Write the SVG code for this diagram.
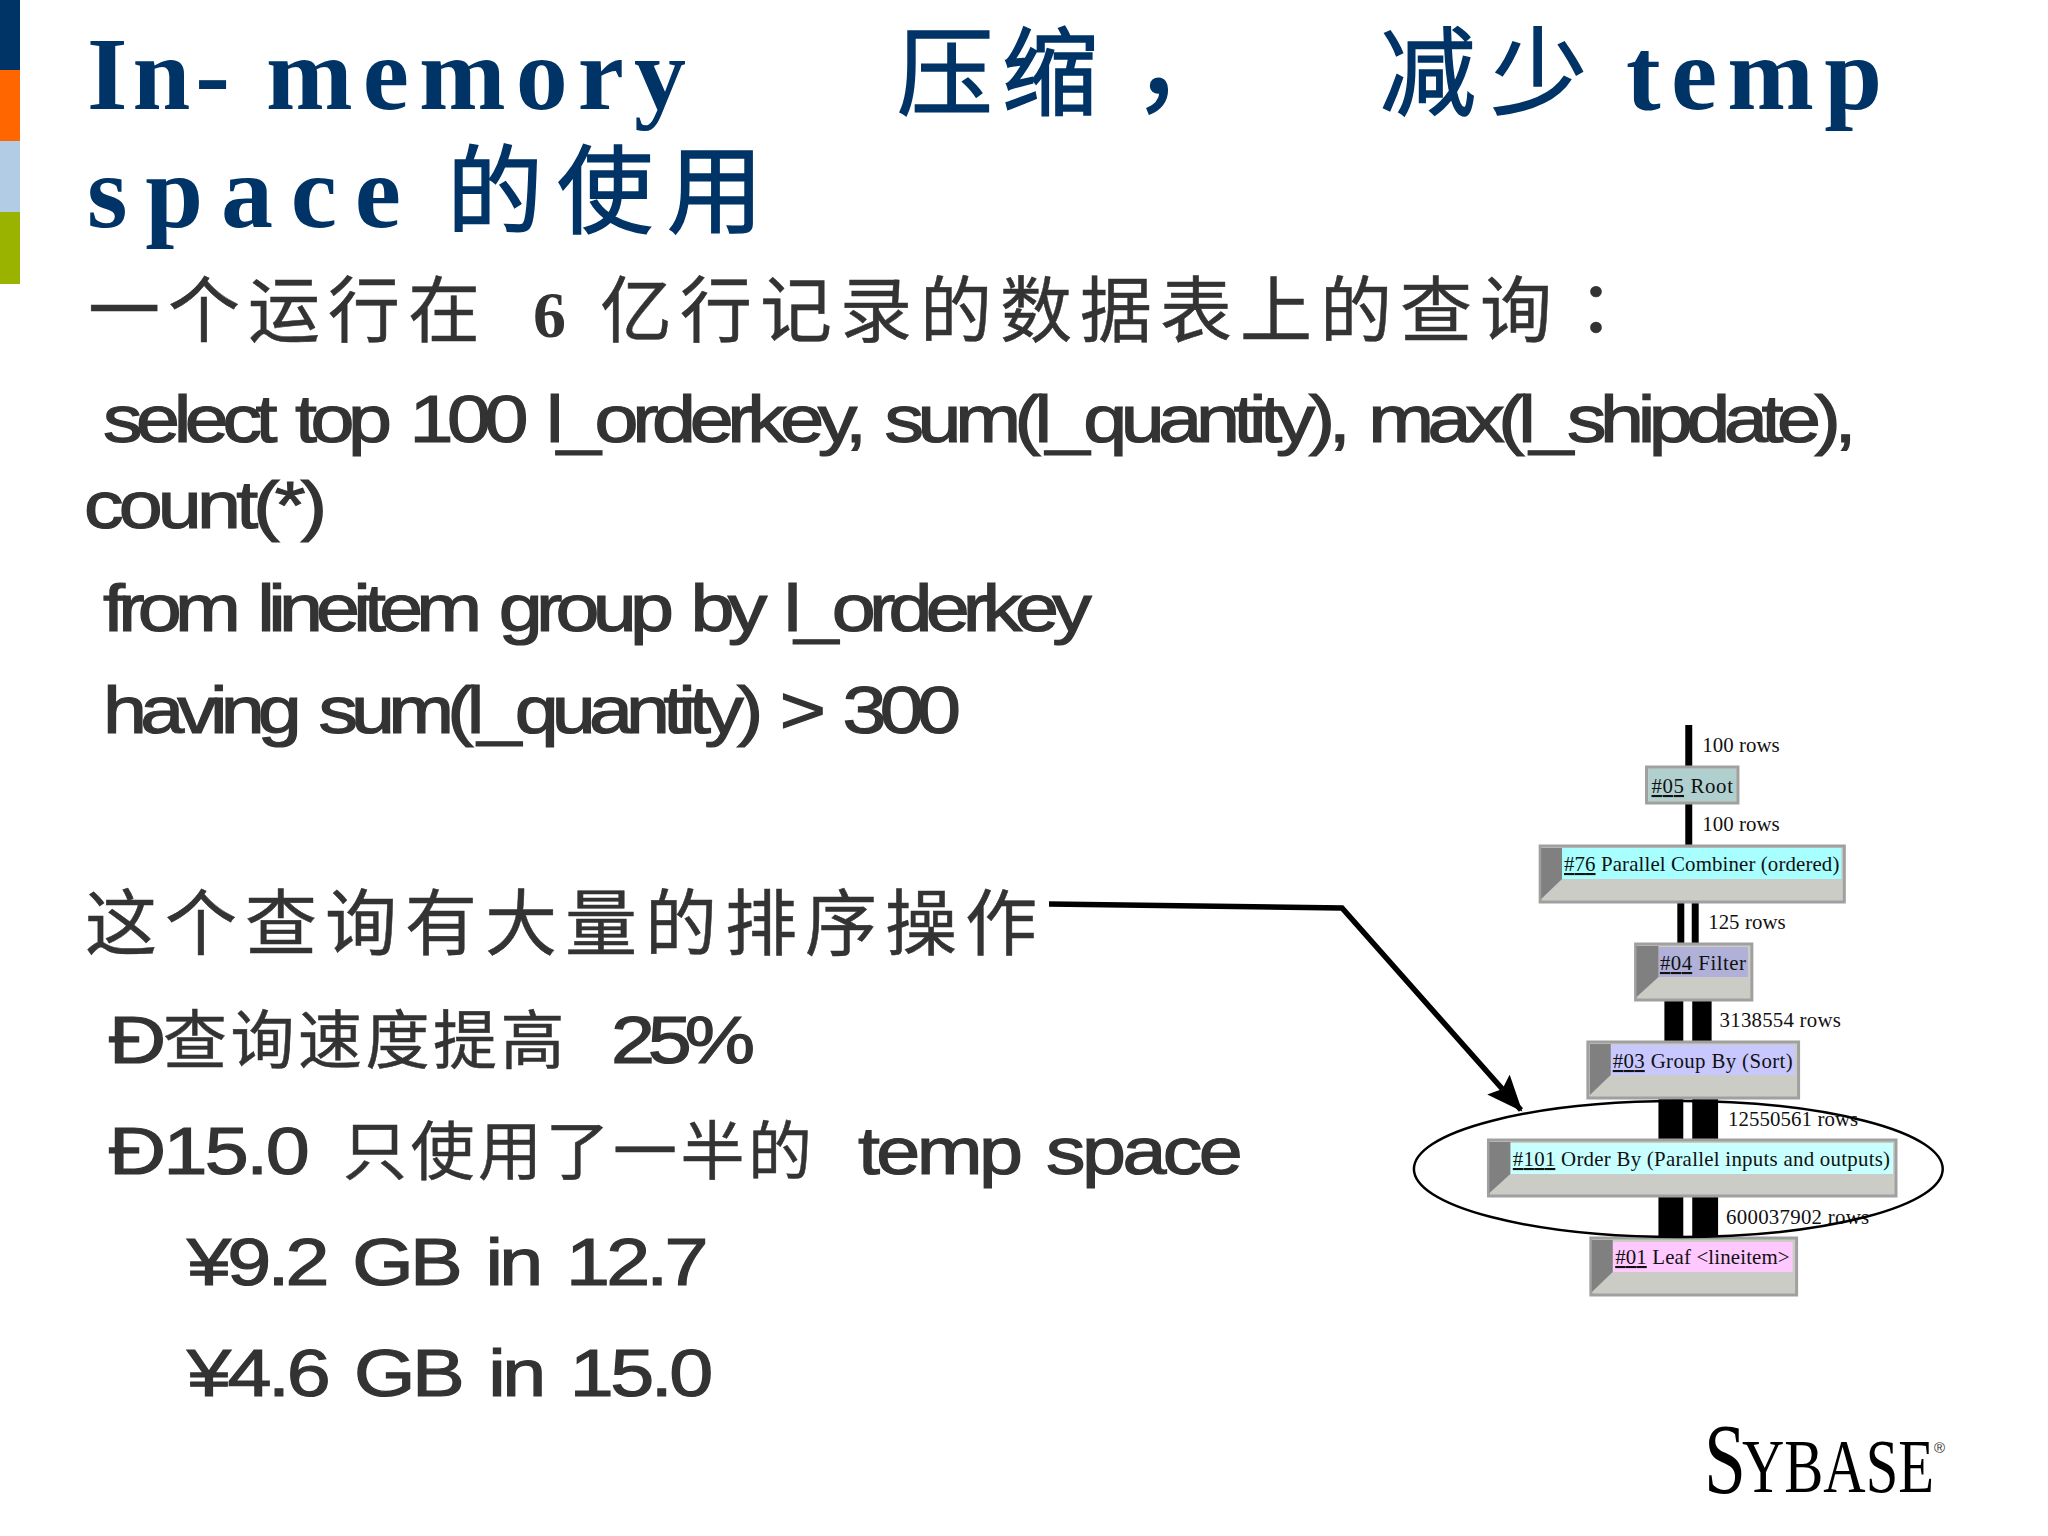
<svg xmlns="http://www.w3.org/2000/svg" width="2048" height="1536" viewBox="0 0 2048 1536">
<style>
.tl{font-family:"Liberation Serif","Noto Sans CJK SC",serif;font-weight:700;font-size:104px;fill:#003366}
.tc{font-family:"Noto Sans CJK SC",sans-serif;font-size:96px;fill:#003366;stroke:#003366;stroke-width:1.5px}
.cj{font-family:"Noto Sans CJK SC",sans-serif;font-size:72px;fill:#333;letter-spacing:8px;stroke:#333;stroke-width:.5px}
.cs{font-family:"Noto Sans CJK SC",sans-serif;font-size:64px;fill:#333;letter-spacing:3.5px;stroke:#333;stroke-width:.5px}
.la{font-family:"Liberation Sans",Arial,sans-serif;font-size:67px;fill:#333;stroke:#333;stroke-width:1.2px;word-spacing:7px}
.n{font-family:"Liberation Serif",serif;font-size:21px;fill:#111}
.box{fill:#ccccc6;stroke:#a0a0a0;stroke-width:3px}
.bev{fill:#808080}
.lk{text-decoration:underline}
.wire{fill:#000}
</style>
<defs>
<marker id="ah" markerUnits="userSpaceOnUse" markerWidth="40" markerHeight="40" refX="34" refY="15" orient="auto"><path d="M0 0L36 15L0 30L6 15Z" fill="#000"/></marker>
</defs>
<rect width="2048" height="1536" fill="#fff"/>
<g id="sidebar">
<rect x="0" y="0" width="20" height="70" fill="#003366"/>
<rect x="0" y="70" width="20" height="71" fill="#ff6600"/>
<rect x="0" y="141" width="20" height="71" fill="#b2cce6"/>
<rect x="0" y="212" width="20" height="72" fill="#99b300"/>
</g>
<g id="title">
<text class="tl" x="87" y="109" textLength="143" lengthAdjust="spacing">In-</text>
<text class="tl" x="266" y="109" textLength="420" lengthAdjust="spacing">memory</text>
<text class="tc" x="897" y="107" letter-spacing="9">压缩</text>
<text class="tc" x="1133" y="103" style="font-size:104px">，</text>
<text class="tc" x="1380" y="107" letter-spacing="15">减少</text>
<text class="tl" x="1626" y="109" textLength="256" lengthAdjust="spacing">temp</text>
<text class="tl" x="87" y="227" textLength="314" lengthAdjust="spacing">space</text>
<text class="tc" x="447" y="225" letter-spacing="14">的使用</text>
</g>
<g id="body">
<text class="cj" x="88" y="336">一个运行在</text>
<text class="la" x="533" y="337" font-weight="700" style="font-family:'Liberation Serif',serif;font-size:66px;stroke:none">6</text>
<text class="cj" x="600" y="336">亿行记录的数据表上的查询<tspan style="font-family:'Noto Sans CJK TC',sans-serif">：</tspan></text>
<text class="la" transform="translate(103 442) scale(1.18 1)" textLength="1486" lengthAdjust="spacing">select top 100 l_orderkey, sum(l_quantity), max(l_shipdate),</text>
<text class="la" transform="translate(84 528) scale(1.18 1)" textLength="206" lengthAdjust="spacing">count(*)</text>
<text class="la" transform="translate(103 631) scale(1.18 1)" textLength="838" lengthAdjust="spacing">from lineitem group by l_orderkey</text>
<text class="la" transform="translate(103 733) scale(1.18 1)" textLength="727" lengthAdjust="spacing">having sum(l_quantity) &gt; 300</text>
<text class="cj" x="85" y="949">这个查询有大量的排序操作</text>
<text class="la" transform="translate(109 1063) scale(1.18 1)">Ð</text>
<text class="cs" x="163" y="1063">查询速度提高</text>
<text class="la" transform="translate(611 1063) scale(1.18 1)" textLength="122" lengthAdjust="spacing">25%</text>
<text class="la" transform="translate(109 1174) scale(1.18 1)" textLength="170" lengthAdjust="spacing">Ð15.0</text>
<text class="cs" x="343" y="1174">只使用了一半的</text>
<text class="la" transform="translate(858 1174) scale(1.18 1)" textLength="326" lengthAdjust="spacing">temp space</text>
<text class="la" transform="translate(187 1285) scale(1.18 1)" textLength="442" lengthAdjust="spacing">¥9.2 GB in 12.7</text>
<text class="la" transform="translate(187 1396) scale(1.18 1)" textLength="446" lengthAdjust="spacing">¥4.6 GB in 15.0</text>
</g>
<g id="connectors">
<g transform="translate(8.4 0) scale(.994 1)">
<rect class="wire" x="1687" y="725" width="7" height="41"/>
<rect class="wire" x="1687" y="803" width="7" height="42"/>
<rect class="wire" x="1679" y="902" width="7" height="41"/>
<rect class="wire" x="1693.5" y="902" width="7" height="41"/>
<rect class="wire" x="1666" y="1000" width="19" height="41"/>
<rect class="wire" x="1694" y="1000" width="19.5" height="41"/>
<rect class="wire" x="1660" y="1098" width="25" height="41"/>
<rect class="wire" x="1694" y="1098" width="26" height="41"/>
<rect class="wire" x="1660" y="1196" width="25" height="41"/>
<rect class="wire" x="1694" y="1196" width="26" height="41"/>
</g>
<path d="M1049 904L1342 908L1521 1110" fill="none" stroke="#000" stroke-width="5.5" marker-end="url(#ah)"/>
</g>
<g id="labels" transform="translate(8.4 0) scale(.994 1)">
<text class="n" x="1704" y="752" textLength="78" lengthAdjust="spacing">100 rows</text>
<text class="n" x="1704" y="831" textLength="78" lengthAdjust="spacing">100 rows</text>
<text class="n" x="1710" y="929" textLength="78" lengthAdjust="spacing">125 rows</text>
<text class="n" x="1721.5" y="1027" textLength="122" lengthAdjust="spacing">3138554 rows</text>
<text class="n" x="1730" y="1126" textLength="131" lengthAdjust="spacing">12550561 rows</text>
<text class="n" x="1728" y="1224" textLength="144" lengthAdjust="spacing">600037902 rows</text>
</g>
<g id="node-05" transform="translate(8.4 0) scale(.994 1)">
<rect class="box" x="1648" y="767" width="92" height="36"/>
<rect x="1650" y="769" width="88" height="32" fill="#b0d0d0"/>
<text class="n" x="1653" y="793" textLength="82" lengthAdjust="spacing"><tspan class="lk">#05</tspan> Root</text>
</g>
<g id="node-76" transform="translate(8.4 0) scale(.994 1)">
<rect class="box" x="1541" y="846" width="306" height="56"/>
<rect x="1563" y="848" width="281" height="31" fill="#a8ffff"/>
<path class="bev" d="M1542 848H1563V879L1542 899Z"/>
<text class="n" x="1565" y="871" textLength="277" lengthAdjust="spacing"><tspan class="lk">#76</tspan> Parallel Combiner (ordered)</text>
</g>
<g id="node-04" transform="translate(8.4 0) scale(.994 1)">
<rect class="box" x="1637" y="944" width="117" height="56"/>
<rect x="1660" y="947" width="90" height="30" fill="#b0b0d8"/>
<path class="bev" d="M1638 946H1660V977L1638 997Z"/>
<text class="n" x="1661.5" y="970" textLength="86.5" lengthAdjust="spacing"><tspan class="lk">#04</tspan> Filter</text>
</g>
<g id="node-03" transform="translate(8.4 0) scale(.994 1)">
<rect class="box" x="1589" y="1042" width="212" height="56"/>
<rect x="1612" y="1045" width="185" height="30" fill="#c8c8ff"/>
<path class="bev" d="M1591 1044H1612V1075L1591 1095Z"/>
<text class="n" x="1614" y="1068" textLength="181" lengthAdjust="spacing"><tspan class="lk">#03</tspan> Group By (Sort)</text>
</g>
<g id="node-101" transform="translate(8.4 0) scale(.994 1)">
<rect class="box" x="1489" y="1140" width="410" height="56"/>
<rect x="1511" y="1143" width="385" height="31" fill="#c8ffff"/>
<path class="bev" d="M1490 1142H1511V1174L1490 1193Z"/>
<text class="n" x="1513.5" y="1166" textLength="379.5" lengthAdjust="spacing"><tspan class="lk">#101</tspan> Order By (Parallel inputs and outputs)</text>
</g>
<g id="node-01" transform="translate(8.4 0) scale(.994 1)">
<rect class="box" x="1592" y="1238" width="207" height="57"/>
<rect x="1614" y="1242" width="181" height="30" fill="#ffc8ff"/>
<path class="bev" d="M1593 1240H1614V1272L1593 1292Z"/>
<text class="n" x="1616.5" y="1264" textLength="175.5" lengthAdjust="spacing"><tspan class="lk">#01</tspan> Leaf &lt;lineitem&gt;</text>
</g>
<g id="callout" transform="translate(8.4 0) scale(.994 1)">
<ellipse cx="1680" cy="1169" rx="266" ry="68" fill="none" stroke="#000" stroke-width="2.5"/>
</g>
<g id="logo">
<text x="1704" y="1492" font-family="Liberation Serif, serif" font-size="100" fill="#000" textLength="42" lengthAdjust="spacingAndGlyphs">S</text>
<text x="1742" y="1492" font-family="Liberation Serif, serif" font-size="76" fill="#000" textLength="192" lengthAdjust="spacingAndGlyphs">YBASE</text>
<text x="1934" y="1453" font-family="Liberation Sans, sans-serif" font-size="15" fill="#333">®</text>
</g>
</svg>
